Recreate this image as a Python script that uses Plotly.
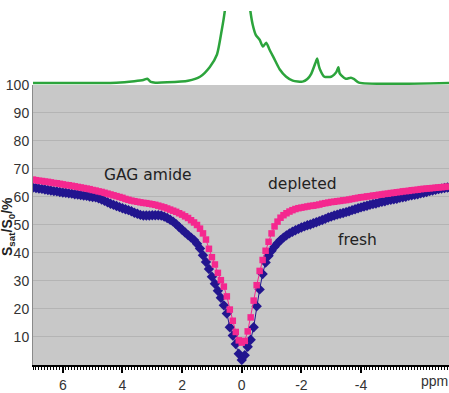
import plotly.graph_objects as go

ppm = [round(7.0 - 0.1 * i, 1) for i in range(140)]

depleted = [66.2, 66.0, 65.8, 65.7, 65.5, 65.4, 65.2, 65.0, 64.9, 64.7,
            64.5, 64.3, 64.2, 64.0, 63.8, 63.6, 63.4, 63.2, 63.0, 62.8,
            62.5, 62.3, 62.0, 61.8, 61.5, 61.2, 60.9, 60.6, 60.3, 60.0,
            59.7, 59.3, 59.0, 58.7, 58.5, 58.3, 58.1, 57.9, 57.8, 57.6,
            57.4, 57.2, 56.9, 56.6, 56.3, 55.9, 55.5, 55.1, 54.7, 54.2,
            53.7, 53.1, 52.5, 51.7, 50.9, 50.0, 48.7, 47.0, 44.8, 41.5,
            38.5, 35.9, 32.9, 30.3, 28.0, 24.5, 19.8, 15.8, 11.8, 8.8,
            8.0, 8.6, 12.0, 17.0, 23.0, 28.5, 33.6, 37.5, 40.8, 44.0,
            47.0, 49.5, 51.2, 52.6, 53.5, 54.2, 54.8, 55.3, 55.7, 56.0,
            56.2, 56.4, 56.6, 56.8, 56.9, 57.1, 57.3, 57.6, 57.8, 58.0,
            58.2, 58.3, 58.5, 58.6, 58.8, 58.9, 59.1, 59.3, 59.5, 59.7,
            59.9, 60.0, 60.2, 60.3, 60.5, 60.6, 60.8, 60.9, 61.1, 61.2,
            61.4, 61.5, 61.7, 61.8, 62.0, 62.1, 62.2, 62.4, 62.5, 62.6,
            62.8, 62.9, 63.0, 63.1, 63.2, 63.3, 63.4, 63.5, 63.6, 63.7]

fresh = [63.4, 63.2, 63.0, 62.9, 62.7, 62.5, 62.3, 62.1, 62.0, 61.8,
         61.6, 61.5, 61.3, 61.2, 61.0, 60.9, 60.7, 60.5, 60.4, 60.2,
         60.0, 59.9, 59.5, 59.1, 58.6, 58.1, 57.6, 57.2, 56.8, 56.4,
         56.0, 55.6, 55.3, 54.9, 54.4, 54.0, 53.6, 53.4, 53.4, 53.4,
         53.5, 53.5, 53.5, 53.4, 53.0, 52.5, 51.9, 51.2, 50.3, 49.3,
         48.3, 47.3, 46.4, 45.5, 44.6, 43.3, 41.6, 39.2, 36.8, 34.3,
         31.5, 29.0, 26.5, 24.0, 21.3, 18.4, 13.5, 10.5, 7.5, 4.0,
         1.8, 3.5, 6.5, 9.0, 13.5, 21.0, 27.0, 32.5, 36.6, 39.0,
         40.8, 42.2, 43.5, 44.6, 45.5, 46.3, 47.0, 47.6, 48.1, 48.6,
         49.1, 49.5, 49.9, 50.2, 50.6, 51.0, 51.4, 51.8, 52.2, 52.7,
         53.0, 53.4, 53.7, 54.0, 54.3, 54.6, 54.9, 55.3, 55.6, 56.0,
         56.3, 56.6, 56.9, 57.2, 57.5, 57.7, 58.0, 58.3, 58.5, 58.8,
         59.0, 59.2, 59.4, 59.7, 59.9, 60.1, 60.4, 60.6, 60.8, 61.0,
         61.3, 61.5, 61.8, 62.1, 62.3, 62.6, 62.8, 63.0, 63.2, 63.4]

spec_ppm = [7.0, 4.2, 3.6, 3.3, 3.17, 3.05, 2.9, 2.5, 1.8, 1.4, 1.07, 0.83,
            0.67, 0.57, 0.45, 0.2, -0.15, -0.29, -0.37, -0.47, -0.6, -0.71,
            -0.82, -0.93, -1.1, -1.27, -1.49, -1.71, -2.04, -2.2, -2.33,
            -2.49, -2.53, -2.58, -2.62, -2.77, -3.0, -3.1, -3.17, -3.24,
            -3.28, -3.33, -3.49, -3.66, -3.77, -3.93, -6.95]
spec_int = [0, 0.3, 1.8, 3.0, 4.3, 1.0, 0.3, 0.6, 2.3, 6.3, 16.3, 29,
            54, 73, 110, 130, 110, 73, 59, 49, 44, 37,
            41, 34, 24, 14, 6.3, 2.3, 1.3, 4, 9.3,
            22, 25, 18, 14, 6.3, 6.3, 8.5, 11, 16,
            10, 8, 4.3, 5.3, 3.8, 0.3, 0]

y_ticks = [10, 20, 30, 40, 50, 60, 70, 80, 90, 100]
x_label_ticks = [6, 4, 2, 0, -2, -4]
x_label_text = ["6", "4", "2", "0", "-2", "-4"]
x_odd_ticks = [7, 5, 3, 1, -1, -3, -5]

labels = [("GAG amide", 3.14, 67.7), ("depleted", -2.03, 64.6), ("fresh", -3.87, 44.6)]

PINK = "#f5288f"
NAVY = "#22158f"
GREEN = "#2ca43c"
XRANGE = [7.0, -6.95]

fig = go.Figure()

fig.add_trace(go.Scatter(x=ppm, y=fresh, mode="lines+markers",
                         line=dict(color=NAVY, width=1),
                         marker=dict(symbol="diamond", size=8, color=NAVY),
                         xaxis="x", yaxis="y", showlegend=False))
fig.add_trace(go.Scatter(x=ppm, y=depleted, mode="lines+markers",
                         line=dict(color=PINK, width=1),
                         marker=dict(symbol="square", size=6.5, color=PINK),
                         xaxis="x", yaxis="y", showlegend=False))
fig.add_trace(go.Scatter(x=spec_ppm, y=spec_int, mode="lines",
                         line=dict(color=GREEN, width=2.5, shape="spline", smoothing=0.6),
                         xaxis="x2", yaxis="y2", showlegend=False))

fig.update_layout(
    width=449, height=393,
    margin=dict(l=33, r=0, t=11, b=23),
    paper_bgcolor="white",
    plot_bgcolor="rgba(0,0,0,0)",
    font=dict(family="Liberation Sans, Arial, sans-serif", size=14, color="#333333"),
    xaxis=dict(domain=[0, 1], range=XRANGE, anchor="y",
               tickmode="array", tickvals=x_label_ticks, ticktext=x_label_text,
               ticks="outside", ticklen=6, tickwidth=2, tickcolor="black",
               minor=dict(tickmode="linear", tick0=0, dtick=0.1, ticks="outside",
                          ticklen=3, tickwidth=1, tickcolor="black", showgrid=False),
               showline=True, linecolor="black", linewidth=2,
               showgrid=False, zeroline=False),
    xaxis3=dict(range=XRANGE, overlaying="x", anchor="y", side="bottom",
                tickmode="array", tickvals=x_odd_ticks, showticklabels=False,
                ticks="outside", ticklen=6, tickwidth=2, tickcolor="black",
                showline=False, showgrid=False, zeroline=False),
    yaxis=dict(domain=[0, 0.791], range=[0, 100], anchor="x",
               tickmode="array", tickvals=y_ticks,
               ticks="", ticklabelstandoff=0,
               showline=True, linecolor="#8a8a8a", linewidth=1,
               showgrid=True, gridcolor="#b4b4b4", gridwidth=1, zeroline=False),
    xaxis2=dict(domain=[0, 1], range=XRANGE, anchor="y2", visible=False),
    yaxis2=dict(domain=[0.791, 1], range=[-2.1, 73.3], anchor="x2", visible=False),
)

# grey plotting area of the Z-spectrum panel only
fig.add_shape(type="rect", xref="x domain", yref="y domain", x0=0, x1=1, y0=0, y1=1,
              fillcolor="#c8c8c8", line=dict(width=0), layer="below")

for text, xv, yv in labels:
    fig.add_annotation(x=xv, y=yv, xref="x", yref="y", text=text, showarrow=False,
                       font=dict(family="DejaVu Sans, sans-serif", size=15.5, color="#222222"))

fig.add_annotation(x=-6.45, y=-0.045, xref="x", yref="paper", text="ppm",
                   showarrow=False, xanchor="center", yanchor="middle",
                   font=dict(size=14, color="#333333"))

fig.add_annotation(x=-0.06, y=0.39, xref="paper", yref="paper",
                   xanchor="center", yanchor="middle",
                   text="<b>S<sub>sat</sub>/S<sub>0</sub>/%</b>", textangle=-90,
                   showarrow=False, font=dict(size=14, color="#222222"))

fig.write_html("out.html")
